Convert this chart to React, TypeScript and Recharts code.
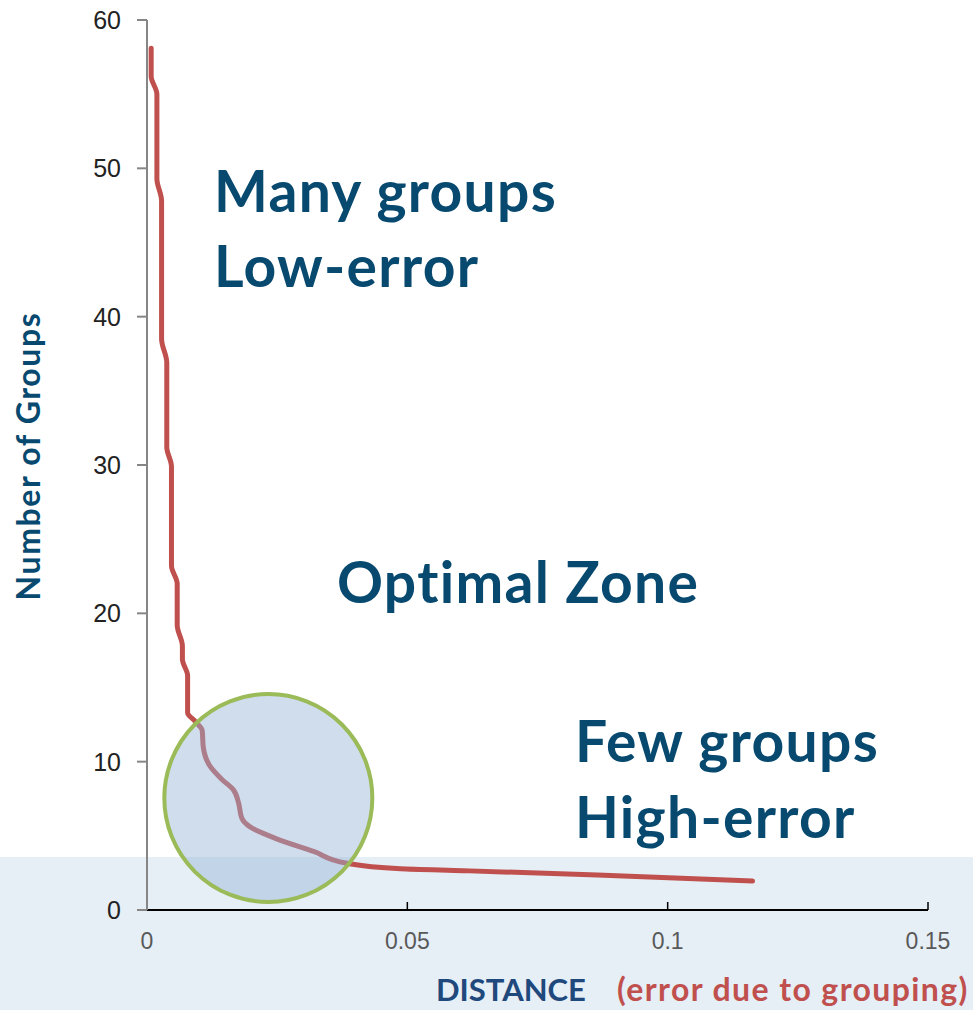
import { LineChart, Line, XAxis, YAxis, ReferenceDot } from 'recharts';

// distance (error due to grouping) vs number of groups
const distance = [
  0.0008, 0.0008, 0.0019, 0.0019, 0.0028, 0.0028, 0.0038, 0.0038, 0.0047, 0.0047,
  0.0058, 0.0058, 0.0068, 0.0068, 0.0078, 0.0078, 0.0093, 0.0106, 0.0108, 0.0121,
  0.0144, 0.0166, 0.0176, 0.0182, 0.0198, 0.0249, 0.032, 0.0384, 0.0487, 0.0608,
  0.0865, 0.1163,
];
const groups = [
  58.1, 56.2, 55.0, 49.3, 47.8, 38.5, 36.9, 31.2, 29.9, 23.2,
  22.0, 19.2, 17.8, 16.9, 15.8, 13.3, 12.7, 12.1, 11.0, 9.7,
  8.8, 8.1, 7.2, 6.2, 5.6, 4.8, 3.95, 3.15, 2.78, 2.65,
  2.36, 1.95,
];
const xTicks = [0, 0.05, 0.1, 0.15];
const yTicks = [0, 10, 20, 30, 40, 50, 60];
// optimal zone circle centre
const zone = { d: 0.0233, n: 7.55 };

const data = distance.map((d, i) => ({ d, n: groups[i] }));

const blue = '#07496f';
const big = { fontFamily: 'Lato', fontWeight: 700, fontSize: 57, letterSpacing: 1.3, fill: blue };

export default function App() {
  return (
    <div style={{ position: 'absolute', left: 0, top: 0, width: 973, height: 1010, background: '#fff' }}>
      <div style={{ position: 'absolute', left: 0, top: 857, width: 973, height: 153, background: '#e6eef6' }} />
      <div style={{ position: 'absolute', left: 0, top: 0 }}>
        <LineChart width={973} height={1010} data={data} margin={{ top: 20, right: 45, bottom: 0, left: 0 }}>
          <XAxis
            type="number"
            dataKey="d"
            domain={[0, 0.15]}
            ticks={xTicks}
            height={100}
            tickSize={-8}
            tickMargin={31}
            axisLine={{ stroke: '#000', strokeWidth: 2 }}
            tickLine={{ stroke: '#000', strokeWidth: 1.5 }}
            tick={{ fill: '#595959', fontSize: 23, fontFamily: 'Liberation Sans' }}
          />
          <YAxis
            type="number"
            dataKey="n"
            domain={[0, 60]}
            ticks={yTicks}
            width={147}
            tickSize={10}
            tickMargin={16}
            axisLine={{ stroke: '#868686', strokeWidth: 2 }}
            tickLine={{ stroke: '#868686', strokeWidth: 2 }}
            tick={{ fill: '#222', fontSize: 25, fontFamily: 'Liberation Sans' }}
          />
          <Line
            type="monotoneY"
            dataKey="n"
            stroke="#c0504d"
            strokeWidth={5}
            strokeLinecap="round"
            dot={false}
            isAnimationActive={false}
          />
          <ReferenceDot
            x={zone.d}
            y={zone.n}
            r={104}
            fill="rgba(149,179,215,0.45)"
            stroke="#9bbb59"
            strokeWidth={4}
            ifOverflow="visible"
          />
          <text x={214} y={212} style={big}>Many groups</text>
          <text x={214} y={287} style={big}>Low-error</text>
          <text x={337} y={603} style={big}>Optimal Zone</text>
          <text x={575} y={762} style={big}>Few groups</text>
          <text x={575} y={838} style={big}>High-error</text>
          <text
            x={0}
            y={0}
            transform="translate(40 456) rotate(-90)"
            textAnchor="middle"
            style={{ fontFamily: 'Lato', fontWeight: 700, fontSize: 32, letterSpacing: 1.6, fill: blue }}
          >
            Number of Groups
          </text>
          <text x={436} y={1001} style={{ fontFamily: 'Lato', fontWeight: 700, fontSize: 31, fill: '#1f497d' }}>
            DISTANCE
          </text>
          <text x={617} y={1001} style={{ fontFamily: 'Lato', fontWeight: 700, fontSize: 32, letterSpacing: 1.4, fill: '#c0504d' }}>
            (error due to grouping)
          </text>
        </LineChart>
      </div>
    </div>
  );
}
